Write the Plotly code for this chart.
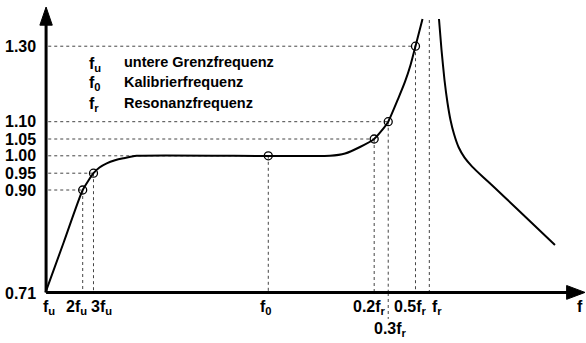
import plotly.graph_objects as go

# ---------------- data (schematic axes) ----------------
x_tick_labels = ["f<sub>u</sub>", "2f<sub>u</sub>", "3f<sub>u</sub>", "f<sub>0</sub>",
                 "0.2f<sub>r</sub>", "0.3f<sub>r</sub>", "0.5f<sub>r</sub>", "f<sub>r</sub>"]
x_tick_vals = [0, 6.98, 8.98, 41.35, 60.96, 63.56, 68.61, 71.17]

y_tick_labels = ["0.71", "0.90", "0.95", "1.00", "1.05", "1.10", "1.30"]
y_tick_vals = [0, 35.76, 41.6, 47.64, 53.47, 59.48, 85.69]

# marked points: (frequency index, level index)
marked_pairs = [(1, 1), (2, 2), (3, 3), (4, 4), (5, 5), (6, 6)]

# response curve below resonance
curve_low_x = [0.1, 3.52, 6.98, 8.98, 10.09, 11.43, 12.96, 14.5, 16.98, 35.0, 52.78,
               55.56, 58.33, 60.96, 62.22, 63.56, 65.43, 66.67, 67.69, 68.61, 69.91]
curve_low_y = [0.2, 17.88, 35.76, 41.6, 43.58, 45.03, 46.08, 46.77, 47.62, 47.64, 47.64,
               48.44, 50.69, 53.47, 56.08, 59.48, 67.6, 73.37, 79.17, 85.69, 95.14]
# response curve above resonance
curve_high_x = [72.96, 73.43, 73.98, 74.54, 75.09, 75.74, 76.6, 77.7, 79.1, 81.11,
                83.33, 87.04, 94.44]
curve_high_y = [95.14, 84.38, 73.96, 65.97, 60.07, 55.21, 50.6, 47.0, 43.9, 40.28,
                36.46, 29.86, 16.67]

legend_symbols = ["f<sub>u</sub>", "f<sub>0</sub>", "f<sub>r</sub>"]
legend_texts = ["untere Grenzfrequenz", "Kalibrierfrequenz", "Resonanzfrequenz"]

# ---------------- styling / layout helpers ----------------
FONT = "Liberation Sans"
label_xshift = [4, -6, 8, -2, -5, 2, -5, 8]
label_row = [0, 0, 0, 0, 0, 1, 0, 0]
legend_y = [80.2, 73.3, 66.0]
peak_top = 95.14


def b(t):
    return "<b>" + t + "</b>"


fig = go.Figure()

# dotted guide lines
gx, gy = [], []
for xi, yi in marked_pairs:
    xv, yv = x_tick_vals[xi], y_tick_vals[yi]
    gx += [0.6, xv, None, xv, xv, None]
    gy += [yv, yv, None, yv, 0, None]
gx += [x_tick_vals[7], x_tick_vals[7], None]
gy += [0, peak_top, None]
gx += [x_tick_vals[5], x_tick_vals[5], None]
gy += [0, -9.0, None]
fig.add_trace(go.Scatter(x=gx, y=gy, mode="lines",
                         line=dict(color="#444", width=1, dash="dot"),
                         hoverinfo="skip", showlegend=False))

# curve
for cx, cy in ((curve_low_x, curve_low_y), (curve_high_x, curve_high_y)):
    fig.add_trace(go.Scatter(x=cx, y=cy, mode="lines",
                             line=dict(color="black", width=2, shape="spline", smoothing=0.5),
                             showlegend=False))

# markers
fig.add_trace(go.Scatter(x=[x_tick_vals[a] for a, _ in marked_pairs],
                         y=[y_tick_vals[c] for _, c in marked_pairs],
                         mode="markers",
                         marker=dict(symbol="circle-open", size=8, color="black",
                                     line=dict(width=1.3)),
                         showlegend=False))

# axes (lines + arrow heads)
shapes = [
    dict(type="line", xref="x", yref="y", x0=0.2, y0=0.2, x1=97, y1=0.2,
         line=dict(color="black", width=3)),
    dict(type="line", xref="x", yref="y", x0=0.2, y0=0.2, x1=0.2, y1=94,
         line=dict(color="black", width=3)),
    dict(type="path", xref="x", yref="y",
         path="M 96.6 2.6 L 100 0.2 L 96.6 -2.2 Z",
         fillcolor="black", line=dict(color="black", width=1)),
    dict(type="path", xref="x", yref="y",
         path="M -0.95 93.0 L 0.2 99.3 L 1.35 93.0 Z",
         fillcolor="black", line=dict(color="black", width=1)),
]

ann = []
for i, (lab, xv) in enumerate(zip(x_tick_labels, x_tick_vals)):
    ann.append(dict(x=xv, y=0, xref="x", yref="y", text=b(lab), showarrow=False,
                    xanchor="center", yanchor="top", xshift=label_xshift[i],
                    yshift=-3 - 22 * label_row[i],
                    font=dict(family=FONT, size=16, color="black", weight="bold")))
ann.append(dict(x=99.1, y=0, xref="x", yref="y", text=b("f"), showarrow=False,
                xanchor="center", yanchor="top", yshift=-3,
                font=dict(family=FONT, size=16, color="black", weight="bold")))
for lab, yv in zip(y_tick_labels, y_tick_vals):
    ann.append(dict(x=0, y=yv, xref="x", yref="y", text=b(lab), showarrow=False,
                    xanchor="right", yanchor="middle", xshift=-7,
                    font=dict(family=FONT, size=16, color="black", weight="bold")))
for sym, txt, yv in zip(legend_symbols, legend_texts, legend_y):
    ann.append(dict(x=7.78, y=yv, xref="x", yref="y", text=b(sym), showarrow=False,
                    xanchor="left", yanchor="middle", yshift=-2,
                    font=dict(family=FONT, size=16, color="black", weight="bold")))
    ann.append(dict(x=14.26, y=yv, xref="x", yref="y", text=b(txt), showarrow=False,
                    xanchor="left", yanchor="middle",
                    font=dict(family=FONT, size=14.5, color="black", weight="bold")))

fig.update_layout(
    width=586, height=343,
    margin=dict(l=18, r=1, t=5, b=14),
    paper_bgcolor="white", plot_bgcolor="white",
    xaxis=dict(range=[-5, 100], visible=False, fixedrange=True),
    yaxis=dict(range=[-12.5, 100], visible=False, fixedrange=True),
    shapes=shapes, annotations=ann, showlegend=False,
)

fig.write_html("out.html", config={"displayModeBar": False},
               post_script="document.body.style.margin='0px';document.body.style.overflow='hidden';")
